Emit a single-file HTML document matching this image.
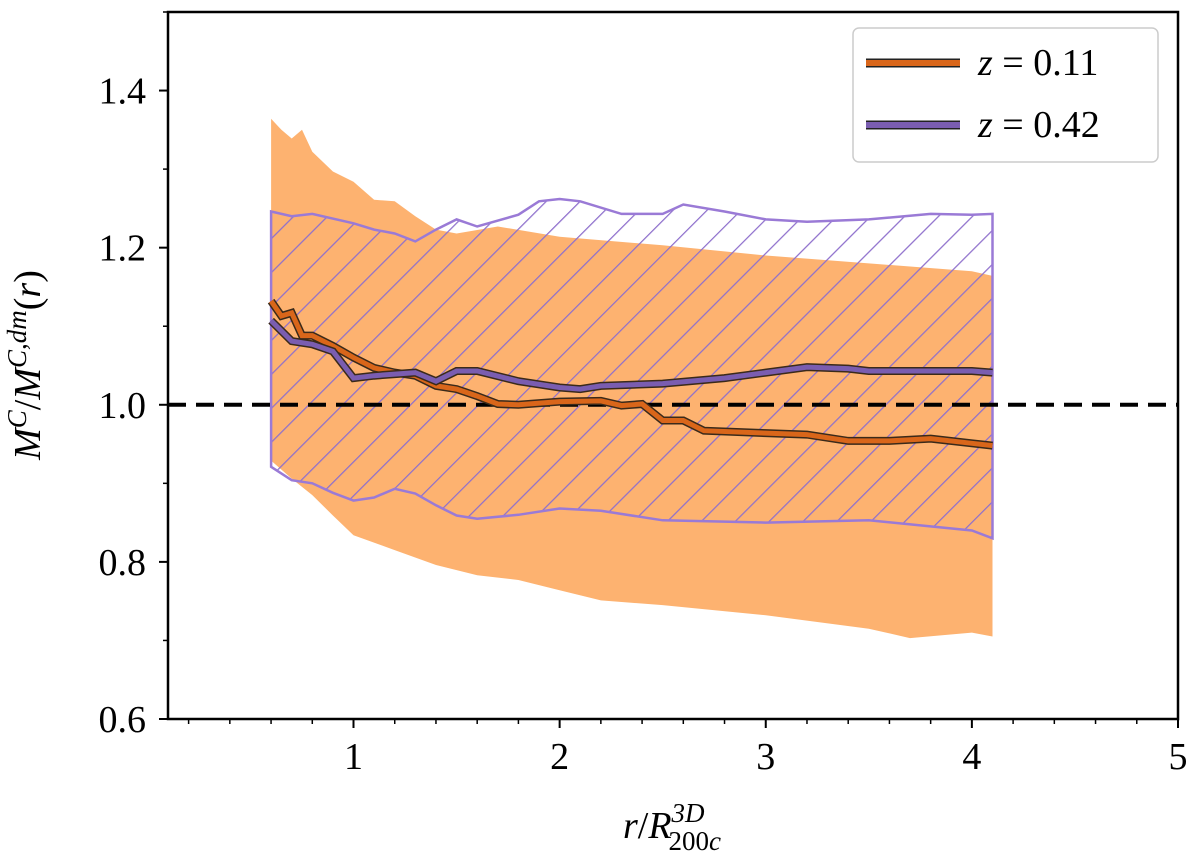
<!DOCTYPE html>
<html><head><meta charset="utf-8"><style>
body{margin:0;background:#fff}
svg text{font-family:"Liberation Serif",serif;fill:#000}
</style></head><body>
<svg width="1200" height="862" viewBox="0 0 1200 862">
<defs>
<pattern id="hatch" patternUnits="userSpaceOnUse" width="24" height="24" patternTransform="rotate(45)">
<line x1="0" y1="0" x2="0" y2="24" stroke="#8e6fcc" stroke-width="2.5"/>
</pattern>
<clipPath id="plotclip"><rect x="168" y="12" width="1010" height="707"/></clipPath>
</defs>
<g id="plot" clip-path="url(#plotclip)"></g>
<g id="axes"></g>
<g>
<rect x="853" y="28" width="305" height="134" rx="6" fill="#fff" stroke="#ccc" stroke-width="1.5"/>
<line x1="866" y1="63" x2="960" y2="63" stroke="#222" stroke-width="9"/>
<line x1="866" y1="63" x2="960" y2="63" stroke="#d9661a" stroke-width="6"/>
<text x="978" y="75" font-size="38"><tspan font-style="italic">z</tspan> = 0.11</text>
<line x1="866" y1="125" x2="960" y2="125" stroke="#222" stroke-width="9"/>
<line x1="866" y1="125" x2="960" y2="125" stroke="#7a5db0" stroke-width="6"/>
<text x="978" y="137" font-size="38"><tspan font-style="italic">z</tspan> = 0.42</text>
</g>
<text x="40" y="365" font-size="38" text-anchor="middle" transform="rotate(-90 40 365)"><tspan font-style="italic">M</tspan><tspan font-style="italic" font-size="27" dy="-14">C</tspan><tspan dy="14">/</tspan><tspan font-style="italic">M</tspan><tspan font-style="italic" font-size="27" dy="-14">C,dm</tspan><tspan dy="14">(</tspan><tspan font-style="italic">r</tspan>)</text>
<text x="672" y="838" font-size="38" text-anchor="middle"><tspan font-style="italic">r</tspan>/<tspan font-style="italic">R</tspan><tspan font-style="italic" font-size="27" dy="-16">3D</tspan><tspan font-size="27" dx="-36" dy="28">200</tspan><tspan font-style="italic" font-size="27">c</tspan></text>
<script>
const xsBand=[0.6,0.65,0.7,0.75,0.8,0.9,1.0,1.1,1.2,1.3,1.4,1.5,1.7,2.0,2.5,3.0,3.5,4.0,4.1];
const orangeUpper=[1.364,1.350,1.339,1.350,1.322,1.297,1.284,1.261,1.259,1.240,1.223,1.218,1.227,1.214,1.203,1.190,1.180,1.170,1.164];
const xsOrLow=[0.6,0.7,0.8,0.9,1.0,1.2,1.4,1.6,1.8,2.0,2.2,2.5,3.0,3.5,3.7,4.0,4.1];
const orangeLower=[0.929,0.906,0.885,0.859,0.834,0.815,0.796,0.783,0.777,0.764,0.751,0.745,0.732,0.715,0.703,0.710,0.705];
const xsPuUp=[0.6,0.7,0.8,1.0,1.1,1.2,1.3,1.4,1.5,1.6,1.8,1.9,2.0,2.1,2.3,2.5,2.6,2.8,3.0,3.2,3.5,3.8,4.0,4.1];
const purpleUpper=[1.246,1.240,1.243,1.231,1.223,1.218,1.208,1.223,1.236,1.227,1.242,1.259,1.262,1.259,1.243,1.243,1.255,1.246,1.236,1.233,1.236,1.243,1.242,1.243];
const xsPuLow=[0.6,0.7,0.8,0.9,1.0,1.1,1.2,1.3,1.4,1.5,1.6,1.8,2.0,2.2,2.5,3.0,3.5,4.0,4.1];
const purpleLower=[0.921,0.904,0.900,0.888,0.878,0.882,0.893,0.887,0.872,0.859,0.855,0.860,0.868,0.865,0.853,0.850,0.853,0.840,0.830];
const xsOrLine=[0.6,0.65,0.7,0.75,0.8,0.9,1.0,1.1,1.2,1.3,1.4,1.5,1.6,1.7,1.8,2.0,2.2,2.3,2.4,2.5,2.6,2.7,3.0,3.2,3.4,3.6,3.8,4.0,4.1];
const orangeLine=[1.132,1.113,1.117,1.088,1.088,1.075,1.060,1.047,1.041,1.037,1.024,1.020,1.011,1.001,1.000,1.004,1.005,0.999,1.001,0.980,0.980,0.967,0.964,0.962,0.954,0.954,0.957,0.951,0.948];
const xsPuLine=[0.6,0.7,0.8,0.9,1.0,1.1,1.2,1.3,1.4,1.5,1.6,1.8,2.0,2.1,2.2,2.5,2.8,3.0,3.2,3.4,3.5,4.0,4.1];
const purpleLine=[1.107,1.081,1.077,1.068,1.034,1.037,1.039,1.041,1.030,1.043,1.043,1.030,1.022,1.020,1.024,1.027,1.034,1.041,1.048,1.046,1.043,1.043,1.041];
const xTicks=[1,2,3,4,5];
const yTicks=[0.6,0.8,1.0,1.2,1.4];
const xMin=0.1,xMax=5,yMin=0.6,yMax=1.5;
const L=168,R=1178,T=12,B=719;
const X=v=>L+(v-xMin)/(xMax-xMin)*(R-L);
const Y=v=>B-(v-yMin)/(yMax-yMin)*(B-T);
const NS='http://www.w3.org/2000/svg';
const plot=document.getElementById('plot'),axes=document.getElementById('axes');
function mk(tag,attrs,parent){const e=document.createElementNS(NS,tag);for(const k in attrs)e.setAttribute(k,attrs[k]);parent.appendChild(e);return e;}
function pts(xs,ys){return xs.map((x,i)=>X(x).toFixed(1)+','+Y(ys[i]).toFixed(1));}
function band(xu,yu,xl,yl){return 'M'+pts(xu,yu).join('L')+'L'+pts(xl,yl).reverse().join('L')+'Z';}
let e=mk('path',{d:band(xsBand,orangeUpper,xsOrLow,orangeLower),fill:'#fdb270'},plot);


const pd=band(xsPuUp,purpleUpper,xsPuLow,purpleLower);
e=mk('path',{d:pd,fill:'url(#hatch)',stroke:'#9a7ad6','stroke-width':2.5},plot);


e=mk('line',{x1:L,x2:R,y1:Y(1),y2:Y(1),stroke:'#000','stroke-width':4,'stroke-dasharray':'18,10'},plot);


function line(xs,ys,col,name){
 const d='M'+pts(xs,ys).join('L');
 mk('path',{d:d,fill:'none',stroke:'#3a2a1a','stroke-width':8},plot);
 const l=mk('path',{d:d,fill:'none',stroke:col,'stroke-width':5},plot);
 
 
}
line(xsOrLine,orangeLine,'#d9661a','line-z011');
line(xsPuLine,purpleLine,'#7a5db0','line-z042');
mk('rect',{x:L,y:T,width:R-L,height:B-T,fill:'none',stroke:'#000','stroke-width':2.5},axes);
xTicks.forEach(v=>{mk('line',{x1:X(v),x2:X(v),y1:B,y2:B+9,stroke:'#000','stroke-width':2},axes);
 const t=mk('text',{x:X(v),y:B+50,'font-size':38,'text-anchor':'middle'},axes);t.textContent=v;
 
 });
for(let v=0.2;v<5;v+=0.2){if(Math.abs(v-Math.round(v))<0.01)continue;mk('line',{x1:X(v),x2:X(v),y1:B,y2:B+5,stroke:'#000','stroke-width':1.5},axes);}
yTicks.forEach(v=>{mk('line',{x1:L-9,x2:L,y1:Y(v),y2:Y(v),stroke:'#000','stroke-width':2},axes);
 const t=mk('text',{x:L-22,y:Y(v)+13,'font-size':38,'text-anchor':'end'},axes);t.textContent=v.toFixed(1);
 
 });
for(let v=0.7;v<1.5;v+=0.2){mk('line',{x1:L-5,x2:L,y1:Y(v),y2:Y(v),stroke:'#000','stroke-width':1.5},axes);}
</script>
</svg>
</body></html>
